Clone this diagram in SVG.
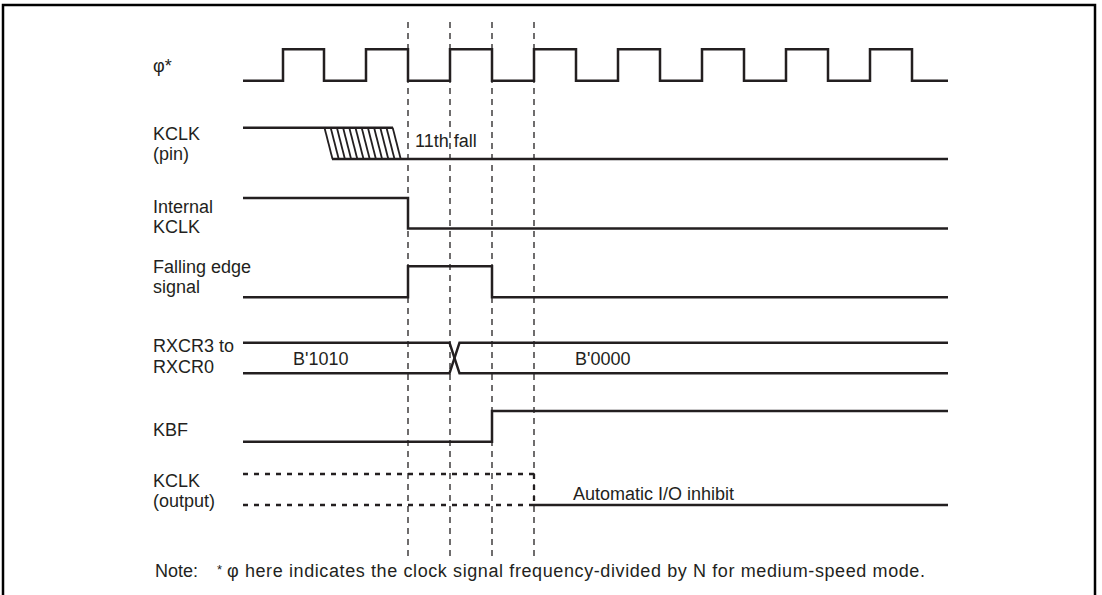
<svg xmlns="http://www.w3.org/2000/svg" width="1102" height="595" viewBox="0 0 1102 595">
<style>
text{font-family:"Liberation Sans",Arial,sans-serif;font-size:18px;fill:#231f20}
.w{fill:none;stroke:#231f20;stroke-width:2.5;stroke-linejoin:miter;stroke-linecap:butt}
.g{fill:none;stroke:#231f20;stroke-width:1.3;stroke-dasharray:6,5}
.d{fill:none;stroke:#231f20;stroke-width:2.3;stroke-dasharray:5,6}
.h{stroke:#231f20;stroke-width:1.8}
</style>
<rect x="3" y="5" width="1092" height="620" fill="#fff" stroke="#000" stroke-width="2.5"/>
<g id="guides">
<line class="g" x1="408" y1="22" x2="408" y2="557"/>
<line class="g" x1="450" y1="22" x2="450" y2="557"/>
<line class="g" x1="492" y1="22" x2="492" y2="557"/>
<line class="g" x1="534" y1="22" x2="534" y2="557"/>
</g>
<g id="phi">
<text x="153" y="72">φ*</text>
<path class="w" d="M243,80.7 H283 V49.3 H324 V80.7 H366 V49.3 H408 V80.7 H450 V49.3 H492 V80.7 H534 V49.3 H576 V80.7 H618 V49.3 H660 V80.7 H702 V49.3 H744 V80.7 H786 V49.3 H828 V80.7 H870 V49.3 H912 V80.7 H948"/>
</g>
<g id="kclk-pin">
<text x="153" y="140">KCLK</text>
<text x="153" y="160">(pin)</text>
<path class="w" d="M243,127.8 H393"/>
<path class="w" d="M332,159 H948"/>
<g class="h">
<line x1="324.5" y1="127.8" x2="332.5" y2="159"/>
<line x1="330.7" y1="127.8" x2="338.7" y2="159"/>
<line x1="336.9" y1="127.8" x2="344.9" y2="159"/>
<line x1="343.1" y1="127.8" x2="351.1" y2="159"/>
<line x1="349.3" y1="127.8" x2="357.3" y2="159"/>
<line x1="355.5" y1="127.8" x2="363.5" y2="159"/>
<line x1="361.7" y1="127.8" x2="369.7" y2="159"/>
<line x1="367.9" y1="127.8" x2="375.9" y2="159"/>
<line x1="374.1" y1="127.8" x2="382.1" y2="159"/>
<line x1="380.3" y1="127.8" x2="388.3" y2="159"/>
<line x1="386.5" y1="127.8" x2="394.5" y2="159"/>
<line x1="392.7" y1="127.8" x2="400.7" y2="159"/>
</g>
<text x="415" y="147.3">11th fall</text>
</g>
<g id="internal-kclk">
<text x="153" y="213.3">Internal</text>
<text x="153" y="232.7">KCLK</text>
<path class="w" d="M243,198 H408 V228.5 H948"/>
</g>
<g id="falling-edge">
<text x="153" y="273.3">Falling edge</text>
<text x="153" y="293.3">signal</text>
<path class="w" d="M243,297.3 H408 V266.2 H492 V297.3 H948"/>
</g>
<g id="rxcr">
<text x="153" y="352.3">RXCR3 to</text>
<text x="153" y="373.3">RXCR0</text>
<path class="w" d="M243,342.7 H449.5 L459.5,373.3 H948"/>
<path class="w" d="M243,373.3 H449.5 L459.5,342.7 H948"/>
<text x="293" y="365">B'1010</text>
<text x="575" y="365">B'0000</text>
</g>
<g id="kbf">
<text x="153" y="436">KBF</text>
<path class="w" d="M243,441.7 H492 V411 H948"/>
</g>
<g id="kclk-output">
<text x="153" y="486.7">KCLK</text>
<text x="153" y="506.5">(output)</text>
<path class="d" d="M243,474 H534"/>
<path class="d" d="M243,505 H534"/>
<path class="d" d="M534,474 V505"/>
<path class="w" d="M534,505 H948"/>
<text x="573" y="500">Automatic I/O inhibit</text>
</g>
<g id="note">
<text x="155" y="577">Note:</text>
<text x="217" y="574" style="font-size:13px">*</text>
<text x="227" y="577" textLength="698" lengthAdjust="spacing">φ here indicates the clock signal frequency-divided by N for medium-speed mode.</text>
</g>
</svg>
